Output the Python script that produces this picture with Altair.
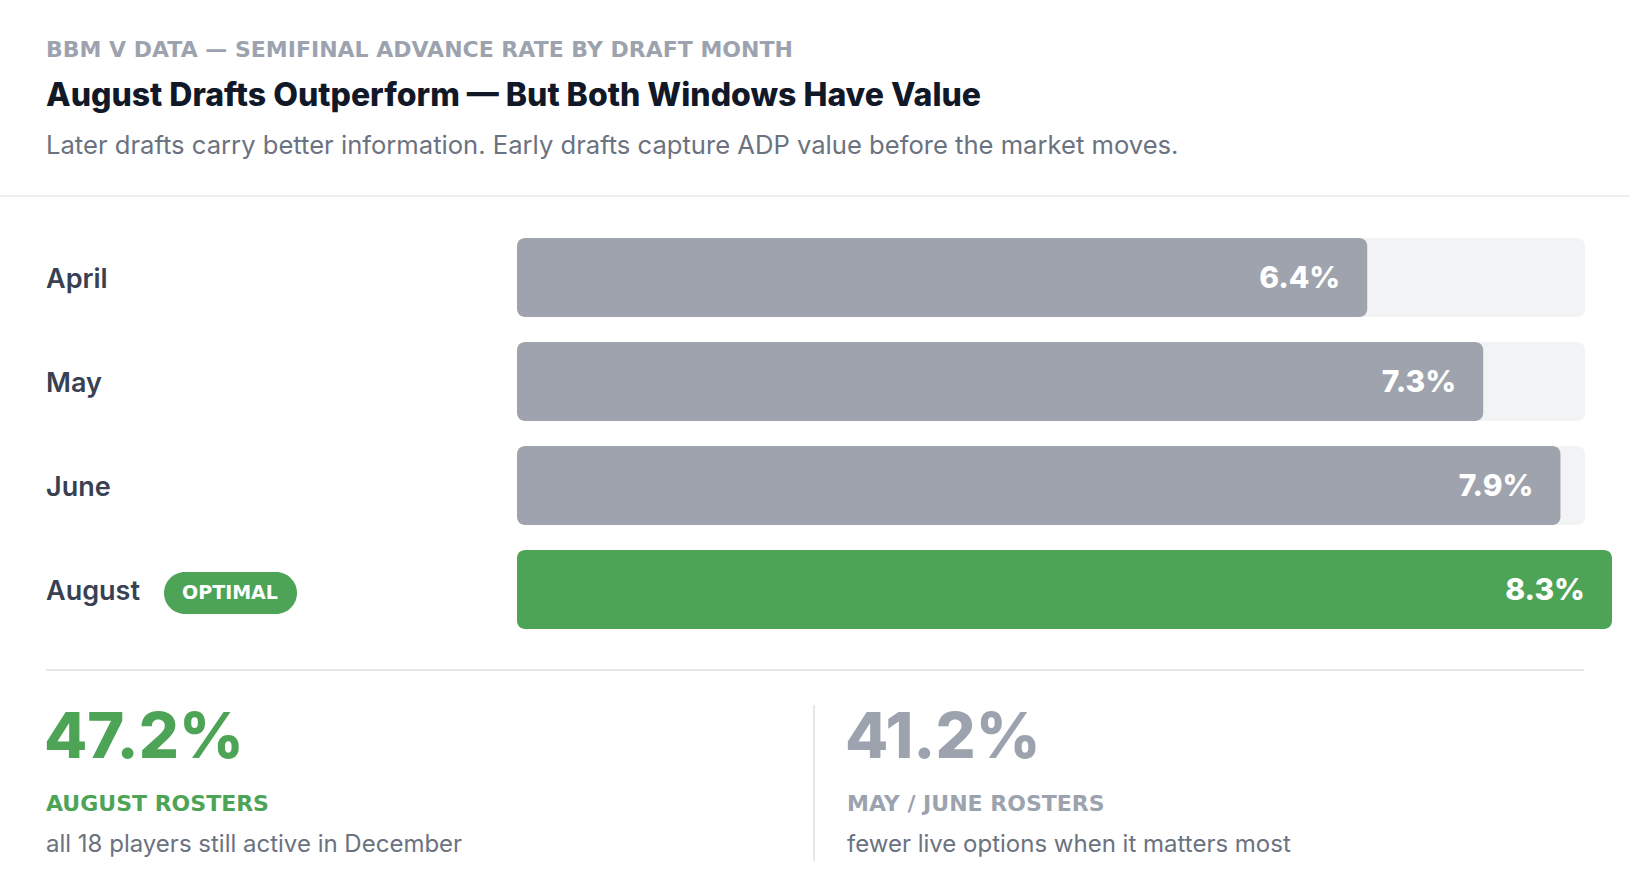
import altair as alt
import pandas as pd

# ---- data ----
months = ["April", "May", "June", "August"]
rates = [6.4, 7.3, 7.9, 8.3]
rate_labels = ["6.4%", "7.3%", "7.9%", "8.3%"]
highlight = [False, False, False, True]
track_max = [8.09, 8.09, 8.09, 0.0]
axis_start = -0.2  # where bars begin on the value scale

stat_values = ["47.2%", "41.2%"]
stat_names = ["AUGUST ROSTERS", "MAY / JUNE ROSTERS"]
stat_notes = ["all 18 players still active in December", "fewer live options when it matters most"]

kicker = "BBM V DATA — SEMIFINAL ADVANCE RATE BY DRAFT MONTH"
title = "August Drafts Outperform — But Both Windows Have Value"
subtitle = "Later drafts carry better information. Early drafts capture ADP value before the market moves."
badge_text = "OPTIMAL"

GREEN = "#4da457"
GRAY = "#9fa3ad"
LIGHT = "#9ca3af"
TRACK = "#f2f3f5"
FONT = "Inter"
WIDE = "DejaVu Sans"

W, H = 1630, 896

df = pd.DataFrame({
    "month": months,
    "rate": rates,
    "label": rate_labels,
    "hl": highlight,
    "track": track_max,
    "start": [axis_start] * 4,
})

xs = alt.Scale(domain=[axis_start, 8.3], range=[517, 1612], zero=False)
ys = alt.Scale(domain=months, range=[225.5, 641.5], paddingInner=0.24, paddingOuter=0.12)

base = alt.Chart(df)

track = base.transform_filter("datum.track > 0").mark_bar(color=TRACK, cornerRadius=8).encode(
    x=alt.X("start:Q", scale=xs, axis=None),
    x2="track:Q",
    y=alt.Y("month:N", scale=ys, axis=None),
)

bars = base.mark_bar(cornerRadius=8).encode(
    x=alt.X("start:Q", scale=xs, axis=None),
    x2="rate:Q",
    y=alt.Y("month:N", scale=ys, axis=None),
    color=alt.Color("hl:N", scale=alt.Scale(domain=[False, True], range=[GRAY, GREEN]), legend=None),
)

vals = base.mark_text(align="right", baseline="middle", dx=-27, dy=1, font=FONT, fontSize=30,
                      fontWeight=800, color="white").encode(
    x=alt.X("rate:Q", scale=xs, axis=None),
    y=alt.Y("month:N", scale=ys, axis=None),
    text="label:N",
)

mlabels = base.mark_text(align="left", baseline="middle", dy=2, font=FONT, fontSize=27,
                         fontWeight=600, color="#374151").encode(
    x=alt.value(46),
    y=alt.Y("month:N", scale=ys, axis=None),
    text="month:N",
)

def txt(s, x, y, size, color, weight=400, align="left", font=FONT):
    return alt.Chart(pd.DataFrame({"t": [s]})).mark_text(
        align=align, baseline="middle", font=font, fontSize=size, fontWeight=weight, color=color
    ).encode(x=alt.value(x), y=alt.value(y), text="t:N")

def rule(x1, x2, y1, y2, color="#e5e7eb", w=2):
    return alt.Chart(pd.DataFrame({"a": [0]})).mark_rule(color=color, strokeWidth=w).encode(
        x=alt.value(x1), x2=alt.value(x2), y=alt.value(y1), y2=alt.value(y2)
    )

badge = alt.Chart(pd.DataFrame({"a": [0]})).mark_rect(color=GREEN, cornerRadius=21).encode(
    x=alt.value(164), x2=alt.value(297), y=alt.value(572), y2=alt.value(614)
)

layers = [
    txt(kicker, 46, 50, 22, LIGHT, 700, font=WIDE),
    txt(title, 46, 96, 32, "#111827", 800),
    txt(subtitle, 46, 146, 25.6, "#6b7280", 400),
    rule(0, W, 196, 196, "#eceef1", 2),
    track, bars, vals, mlabels,
    badge,
    txt(badge_text, 230, 593, 19, "white", 700, "center", font=WIDE),
    rule(46, 1584, 670, 670, "#e5e7eb", 2),
    rule(814, 814, 705, 861, "#e5e7eb", 2),
    txt(stat_values[0], 44, 739, 63, GREEN, 800),
    txt(stat_names[0], 46, 804, 22, GREEN, 700, font=WIDE),
    txt(stat_notes[0], 46, 845, 24, "#6b7280", 400),
    txt(stat_values[1], 845, 739, 63, LIGHT, 800),
    txt(stat_names[1], 847, 804, 22, LIGHT, 700, font=WIDE),
    txt(stat_notes[1], 847, 845, 24, "#6b7280", 400),
]

chart = alt.layer(*layers).properties(
    width=W, height=H, padding=0, autosize=alt.AutoSizeParams(type="none"),
    background="white",
).configure_view(stroke=None)

chart.save("out.html", embed_options={"renderer": "svg", "actions": False})
